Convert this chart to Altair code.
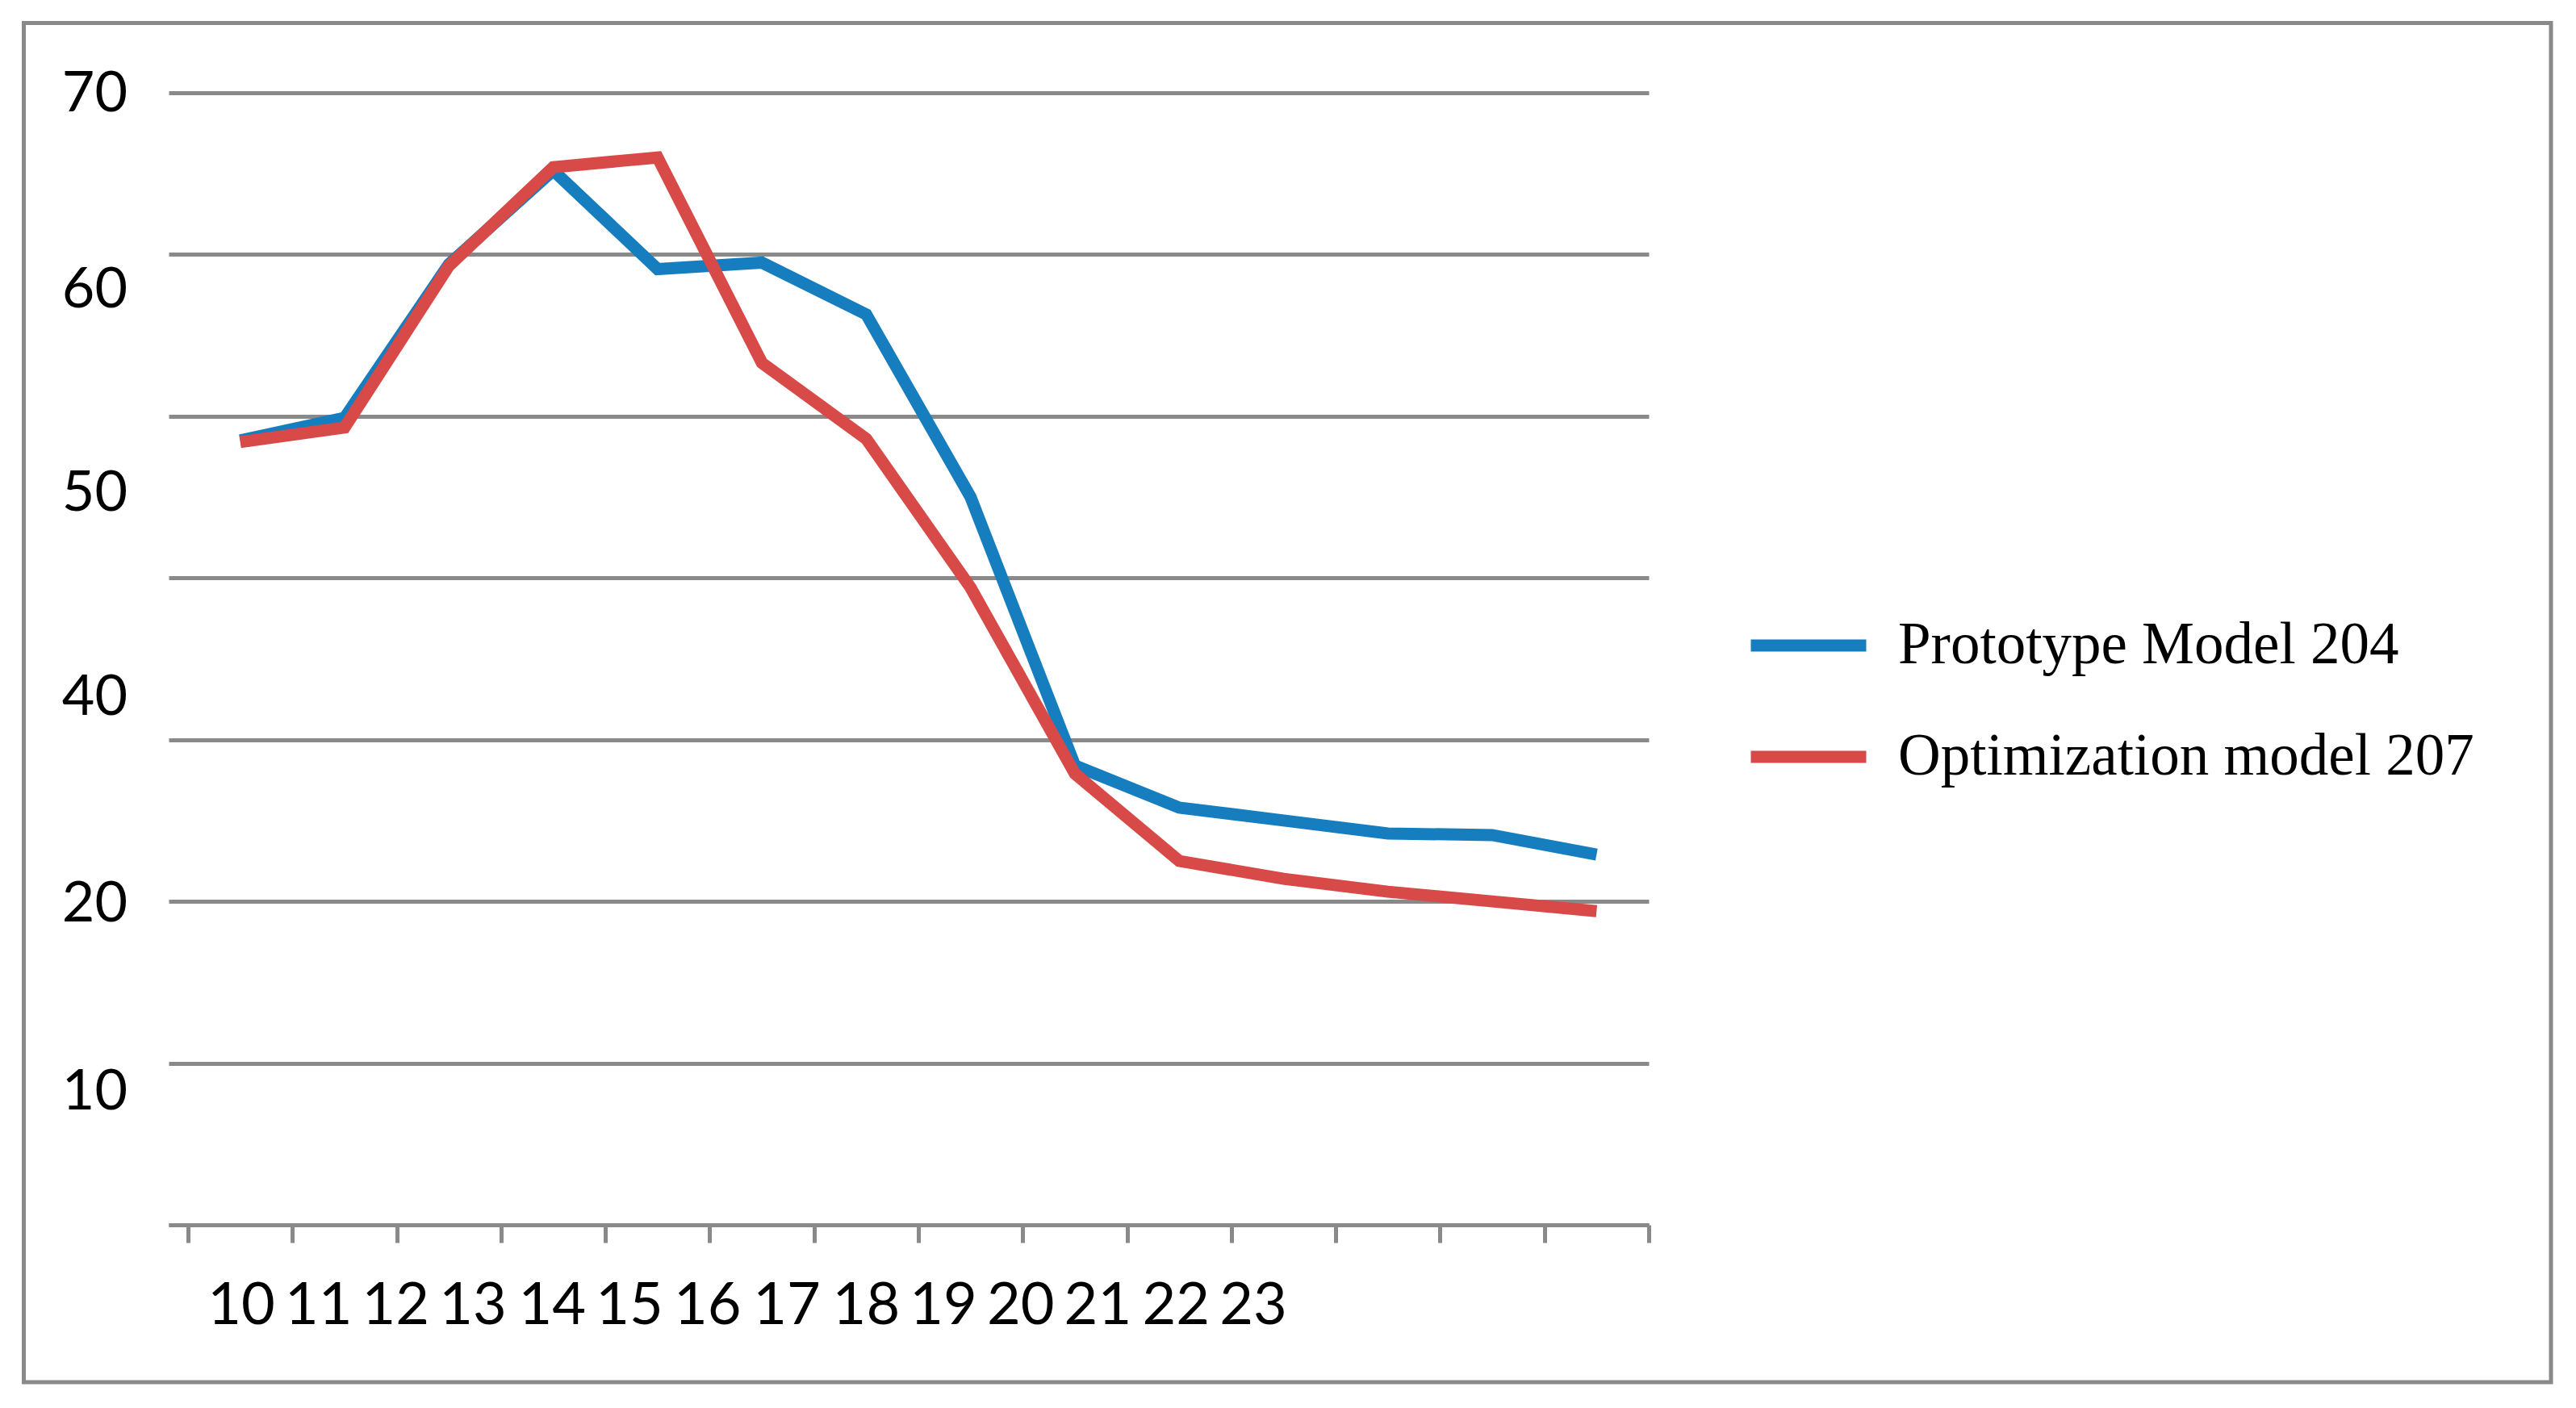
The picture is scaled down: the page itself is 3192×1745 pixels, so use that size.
import altair as alt
import pandas as pd

# ---- data ----
categories = list(range(10, 24))
prototype_204 = [48.5, 49.9, 59.4, 65.2, 59.1, 59.5, 56.3, 45.0, 28.4, 25.8, 25.0, 24.2, 24.1, 22.9]
optimization_207 = [48.4, 49.3, 59.3, 65.4, 66.0, 53.3, 48.6, 39.4, 27.9, 22.5, 21.4, 20.6, 20.0, 19.4]
series_names = ["Prototype Model 204", "Optimization model 207"]
series_colors = ["#167ebf", "#d84a47"]

# tick labels as printed (they sit at odd places in the original)
x_tick_labels = [str(c) for c in categories]
x_label_pos = [0.51, 1.25, 1.99, 2.73, 3.49, 4.23, 4.98, 5.74, 6.50, 7.24, 7.98, 8.72, 9.47, 10.21]
y_tick_labels = ["70", "60", "50", "40", "20", "10"]
y_label_pos = [69.9, 57.8, 45.2, 32.6, 19.8, 8.2]

rows = []
for i, c in enumerate(categories):
    rows.append({"series": series_names[0], "idx": i, "cat": c, "value": prototype_204[i]})
    rows.append({"series": series_names[1], "idx": i, "cat": c, "value": optimization_207[i]})
df = pd.DataFrame(rows)
df["xpos"] = df["idx"] + 0.5

GRID = "#898989"
W, H = 1834, 1403

xscale = alt.Scale(domain=[-0.186, 14], nice=False, zero=False)
yscale = alt.Scale(domain=[0, 70], nice=False)
cscale = alt.Scale(domain=series_names, range=series_colors)

xaxis = alt.Axis(values=list(range(0, 15)), labels=False, title=None, grid=False,
                 ticks=True, tickSize=22, tickWidth=5, tickColor=GRID,
                 domain=True, domainColor=GRID, domainWidth=5)
yaxis = alt.Axis(values=list(range(0, 71, 10)), labels=False, title=None, grid=True,
                 gridColor=GRID, gridWidth=5, ticks=False, domain=False)

legend = alt.Legend(title=None, orient="none", legendX=1953, legendY=606,
                    symbolType="stroke", symbolStrokeWidth=15, symbolSize=20449,
                    labelFont="Liberation Serif", labelFontSize=73, labelColor="black",
                    labelLimit=2000, labelOffset=32, rowPadding=22, padding=0)

base = alt.Chart(df)

line_blue = base.transform_filter(alt.datum.series == series_names[0]).mark_line(
    strokeWidth=15, strokeCap="butt", strokeJoin="miter"
).encode(
    x=alt.X("xpos:Q", scale=xscale, axis=xaxis),
    y=alt.Y("value:Q", scale=yscale, axis=yaxis),
    color=alt.Color("series:N", scale=cscale, legend=legend),
    order="idx:Q",
)

line_red = base.transform_filter(alt.datum.series == series_names[1]).mark_line(
    strokeWidth=15, strokeCap="butt", strokeJoin="miter"
).encode(
    x=alt.X("xpos:Q", scale=xscale),
    y=alt.Y("value:Q", scale=yscale),
    color=alt.Color("series:N", scale=cscale, legend=legend),
    order="idx:Q",
)

xlab_df = pd.DataFrame({"label": x_tick_labels, "pos": x_label_pos})
xlabels = alt.Chart(xlab_df).mark_text(
    font="Lato", fontSize=72, color="black", align="center", baseline="middle"
).encode(
    x=alt.X("pos:Q", scale=xscale),
    y=alt.value(1504),
    text="label:N",
)

ylab_df = pd.DataFrame({"label": y_tick_labels, "pos": y_label_pos})
ylabels = alt.Chart(ylab_df).mark_text(
    font="Lato", fontSize=70, color="black", align="right", baseline="middle"
).encode(
    x=alt.value(-51),
    y=alt.Y("pos:Q", scale=yscale),
    text="label:N",
)

frame = alt.Chart(pd.DataFrame({"a": [0]})).mark_rect(
    filled=False, stroke=GRID, strokeWidth=5, fillOpacity=0
).encode(
    x=alt.value(-179.5), x2=alt.value(2952),
    y=alt.value(-86.5), y2=alt.value(1598),
)

chart = alt.layer(frame, line_blue, line_red, xlabels, ylabels).properties(
    width=W, height=H,
    padding={"left": 201, "top": 107, "right": 1130, "bottom": 200},
    autosize=alt.AutoSizeParams(type="none"),
    background="white",
).configure_view(strokeWidth=0)

chart.save("out.html", embed_options={"renderer": "svg", "actions": False})
